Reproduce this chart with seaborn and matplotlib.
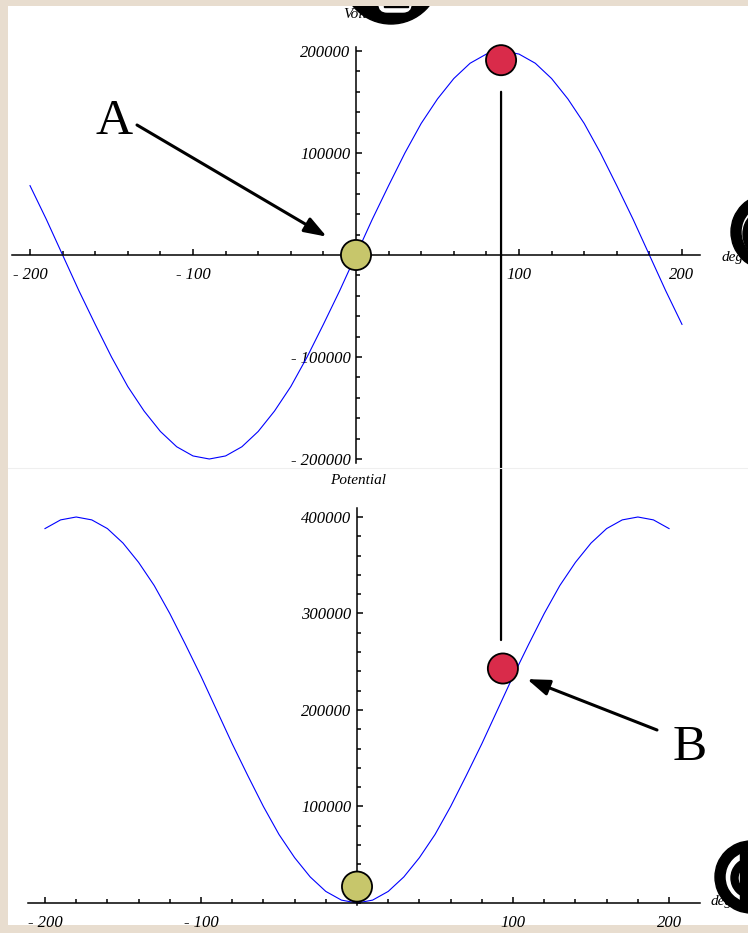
import matplotlib
matplotlib.use("Agg")
import matplotlib.pyplot as plt
import seaborn as sns
import pandas as pd
from matplotlib.patches import Circle, Wedge, Rectangle, FancyBboxPatch, ConnectionPatch
from matplotlib.ticker import FixedLocator

# ---- data -------------------------------------------------------------
deg = list(range(-200, 201, 10))
volts = [68000, 35000, 0, -35000, -68000, -100000, -129000, -153000, -173000, -188000, -197000,
         -200000, -197000, -188000, -173000, -153000, -129000, -100000, -68000, -35000, 0,
         35000, 68000, 100000, 129000, 153000, 173000, 188000, 197000, 200000,
         197000, 188000, 173000, 153000, 129000, 100000, 68000, 35000, 0, -35000, -68000]
potential = [388000, 397000, 400000, 397000, 388000, 373000, 353000, 329000, 300000, 268000, 235000,
             200000, 165000, 132000, 100000, 71000, 47000, 27000, 12000, 3000, 0,
             3000, 12000, 27000, 47000, 71000, 100000, 132000, 165000, 200000,
             235000, 268000, 300000, 329000, 353000, 373000, 388000, 397000, 400000, 397000, 388000]

x_major = [-200, -100, 100, 200]
x_major_labels = ["- 200", "- 100", "100", "200"]
x_minor = list(range(-200, 201, 20))

v_major = [-200000, -100000, 100000, 200000]
v_major_labels = ["- 200000", "- 100000", "100000", "200000"]
v_minor = list(range(-200000, 200001, 20000))

p_major = [100000, 200000, 300000, 400000]
p_major_labels = ["100000", "200000", "300000", "400000"]
p_minor = list(range(0, 400001, 20000))

# highlighted states: (deg, value)
volt_pts = pd.DataFrame({"deg": [0, 89], "val": [0, 191000], "kind": ["A", "B"]})
pot_pts = pd.DataFrame({"deg": [0, 93.5], "val": [17000, 243000], "kind": ["A", "B"]})
pt_colors = {"A": "#c7c66b", "B": "#d92b4a"}

# ---- figure -----------------------------------------------------------
W, H = 748, 933
fig = plt.figure(figsize=(W / 100, H / 100), dpi=100, facecolor="#e8ddcf")

def rect(x0, y0, x1, y1):
    return [x0 / W, 1 - y1 / H, (x1 - x0) / W, (y1 - y0) / H]

ax_top = fig.add_axes(rect(8, 6, 748, 468))
ax_bot = fig.add_axes(rect(8, 468, 748, 925))

ax_top.set_xlim(-213.5, 240.5)
ax_top.set_ylim(-208824, 244118)
ax_bot.set_xlim(-223.7, 250.6)
ax_bot.set_ylim(-22798, 450777)

serif = "Liberation Serif"

def style_axes(ax, ymaj, ylab, ymin, xb, yb):
    ax.set_facecolor("white")
    for s in ("top", "right"):
        ax.spines[s].set_visible(False)
    for s in ("left", "bottom"):
        ax.spines[s].set_position(("data", 0))
        ax.spines[s].set_linewidth(1.1)
        ax.spines[s].set_color("black")
    ax.spines["bottom"].set_bounds(*xb)
    ax.spines["left"].set_bounds(*yb)
    ax.xaxis.set_major_locator(FixedLocator(x_major))
    ax.xaxis.set_minor_locator(FixedLocator(x_minor))
    ax.yaxis.set_major_locator(FixedLocator(ymaj))
    ax.yaxis.set_minor_locator(FixedLocator(ymin))
    ax.set_xticklabels(x_major_labels, fontfamily=serif, fontstyle="italic", fontsize=12)
    ax.set_yticklabels(ylab, fontfamily=serif, fontstyle="italic", fontsize=12)
    ax.tick_params(which="both", direction="in", width=1.1, color="black")
    ax.tick_params(which="major", length=4.5)
    ax.tick_params(which="minor", length=3)
    ax.tick_params(axis="x", pad=9)
    ax.tick_params(axis="y", pad=4)
    ax.set_xlabel("")
    ax.set_ylabel("")

sns.lineplot(x=deg, y=volts, ax=ax_top, color="#0000ff", lw=0.8, sort=False, estimator=None)
sns.lineplot(x=deg, y=potential, ax=ax_bot, color="#0000ff", lw=0.8, sort=False, estimator=None)

style_axes(ax_top, v_major, v_major_labels, v_minor, (-211, 211), (-203900, 203900))
style_axes(ax_bot, p_major, p_major_labels, p_minor, (-211, 220), (-2000, 409000))

# link between the two "B" states
link = ConnectionPatch(xyA=(89, 160000), coordsA=ax_top.transData,
                       xyB=(92.3, 272500), coordsB=ax_bot.transData,
                       color="black", lw=1.6, zorder=3)
fig.add_artist(link)

for ax, pts in ((ax_top, volt_pts), (ax_bot, pot_pts)):
    sns.scatterplot(data=pts, x="deg", y="val", hue="kind", palette=pt_colors, ax=ax,
                    s=470, edgecolor="black", linewidth=1.3, legend=False, zorder=5, clip_on=False)
    ax.set_xlabel("")
    ax.set_ylabel("")

# ---- overlay in pixel coordinates --------------------------------------
ax_o = fig.add_axes([0, 0, 1, 1], zorder=10)
ax_o.set_xlim(0, W)
ax_o.set_ylim(H, 0)
ax_o.axis("off")
ax_o.patch.set_alpha(0)

ax_o.plot([8, 748], [468, 468], color="#efefef", lw=0.8)

ax_o.text(358, 15, "Volts", fontfamily=serif, fontstyle="italic", fontsize=11, ha="center", va="center")
ax_o.text(358, 480, "Potential", fontfamily=serif, fontstyle="italic", fontsize=11, ha="center", va="center")
ax_o.text(722, 257, "deg", fontfamily=serif, fontstyle="italic", fontsize=11, ha="left", va="center")
ax_o.text(711, 902, "deg", fontfamily=serif, fontstyle="italic", fontsize=11, ha="left", va="center")

head = "-|>,head_length=0.9,head_width=0.32"
ax_top.annotate("", xy=(-18, 18000), xycoords="data", xytext=(137, 125), textcoords=ax_o.transData,
                arrowprops=dict(arrowstyle=head, lw=2.2, color="black", shrinkA=0, shrinkB=0,
                                mutation_scale=15))
ax_bot.annotate("", xy=(109, 232000), xycoords="data", xytext=(657, 730), textcoords=ax_o.transData,
                arrowprops=dict(arrowstyle=head, lw=2.2, color="black", shrinkA=0, shrinkB=0,
                                mutation_scale=15))
ax_o.text(114, 134, "A", fontfamily=serif, fontsize=37, ha="center", va="baseline")
ax_o.text(690, 760, "B", fontfamily=serif, fontsize=37, ha="center", va="baseline")

# circled glyph badges at the panel edges
panel_clip = Rectangle((8, 6), 740, 919, transform=ax_o.transData, visible=False)
ax_o.add_patch(panel_clip)
badges = [
    Circle((391, -25), 49, color="black"),
    FancyBboxPatch((379, -20), 32, 32, boxstyle="round,pad=0,rounding_size=8", color="white"),
    Rectangle((384, 3), 24, 4, color="black"),
    Wedge((769, 232), 38, 0, 360, width=10, color="black"),
    Wedge((769, 234), 26, 0, 360, width=5, color="black"),
    Wedge((751, 877), 36, 0, 360, width=10, color="black"),
    Wedge((751, 878), 20, 0, 360, width=7, color="black"),
    Rectangle((740, 852), 8, 51, color="black"),
]
for b in badges:
    ax_o.add_patch(b)
    b.set_clip_path(panel_clip)

fig.savefig("out.png", dpi=100, facecolor=fig.get_facecolor())
